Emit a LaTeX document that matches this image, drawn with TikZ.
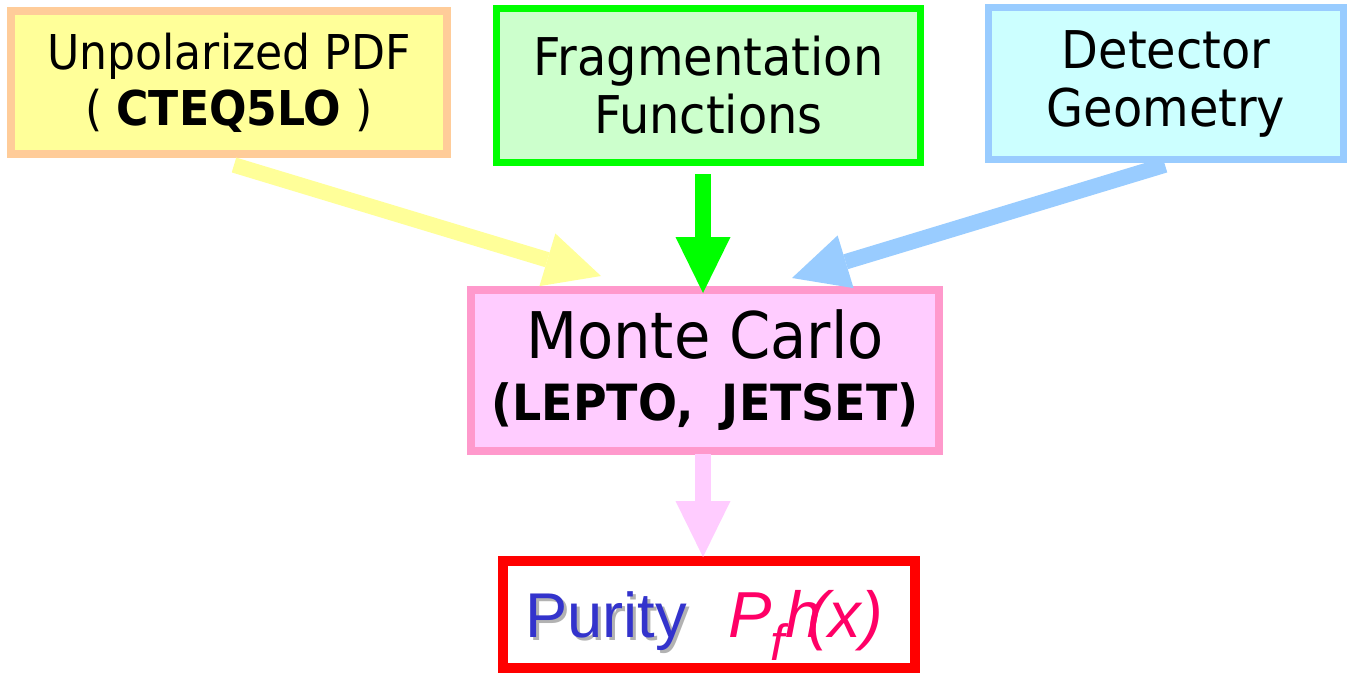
\documentclass[tikz,border=0pt]{standalone}
\usepackage{fontspec}
\setmainfont{DejaVu Sans}[FakeStretch=0.92]
\newfontfamily\arialf{Liberation Sans}
\usetikzlibrary{arrows.meta}
\definecolor{pdfborder}{HTML}{FFCC99}
\definecolor{pdffill}{HTML}{FFFF99}
\definecolor{ffborder}{HTML}{00FF00}
\definecolor{fffill}{HTML}{CCFFCC}
\definecolor{detborder}{HTML}{99CCFF}
\definecolor{detfill}{HTML}{CCFFFF}
\definecolor{mcborder}{HTML}{FF99CC}
\definecolor{mcfill}{HTML}{FFCCFF}
\definecolor{purblue}{HTML}{3333CC}
\definecolor{purpink}{HTML}{FF0066}
\newcommand\shadowtxt[1]{\rlap{\raisebox{-2pt}{\hspace{2pt}\textcolor{black!30}{#1}}}#1}
\tikzset{
  box/.style={draw, rectangle, align=center, inner sep=0pt},
  fatarrow/.style={line width=0.31cm, -{Triangle[width=1.1cm,length=1.12cm,line width=0pt]}}
}
\begin{document}
\begin{tikzpicture}
\useasboundingbox (0,0) rectangle (26.98,-13.5);
% boxes
\node[box, draw=pdfborder, fill=pdffill, line width=0.16cm, minimum width=8.72cm, minimum height=2.86cm,
  font=\fontsize{27.3}{31.9}\selectfont] (pdf) at (4.58,-1.65)
  {Unpolarized PDF\\( {\bfseries CTEQ5LO} )};
\node[box, draw=ffborder, fill=fffill, line width=0.14cm, minimum width=8.48cm, minimum height=3.08cm,
  font=\fontsize{29.6}{33}\selectfont] (ff) at (14.17,-1.71)
  {Fragmentation\\Functions};
\node[box, draw=detborder, fill=detfill, line width=0.14cm, minimum width=7.1cm, minimum height=3.04cm,
  font=\fontsize{29.6}{33}\selectfont] (det) at (23.32,-1.67)
  {Detector\\Geometry};
\node[box, draw=mcborder, fill=mcfill, line width=0.16cm, minimum width=9.36cm, minimum height=3.22cm,
  font=\fontsize{36.6}{35.3}\selectfont] (mc) at (14.1,-7.41)
  {Monte Carlo\\{\bfseries\fontsize{28.4}{35.3}\selectfont (LEPTO,\kern0.25em\ JETSET)}};
\node[box, draw=red, fill=white, line width=0.2cm, minimum width=8.24cm, minimum height=2.14cm] (pur) at (14.18,-12.29)
  {\raisebox{-13pt}[0pt][0pt]{\arialf\fontsize{36}{36}\selectfont\textcolor{purblue}{\shadowtxt{Purity}}\hspace{0.66em}%
   \textcolor{purpink}{\itshape\fontsize{37}{37}\selectfont P\kern-0.02em\raisebox{-0.36em}{\fontsize{29}{29}\selectfont f}\kern0.01em h\kern-0.22em(x)}\hspace*{0.2cm}}};
% arrow end points
\coordinate (pdfs) at (4.68,-3.30);
\coordinate (pdft) at (12.02,-5.52);
\coordinate (ffs) at (14.06,-3.48);
\coordinate (fft) at (14.06,-5.86);
\coordinate (dets) at (23.3,-3.3);
\coordinate (dett) at (15.84,-5.56);
\coordinate (mcs) at (14.06,-9.08);
\coordinate (mct) at (14.06,-11.14);
\draw[fatarrow, pdffill] (pdfs) -- (pdft);
\draw[fatarrow, ffborder] (ffs) -- (fft);
\draw[fatarrow, detborder] (dets) -- (dett);
\draw[fatarrow, mcfill] (mcs) -- (mct);
\end{tikzpicture}
\end{document}
